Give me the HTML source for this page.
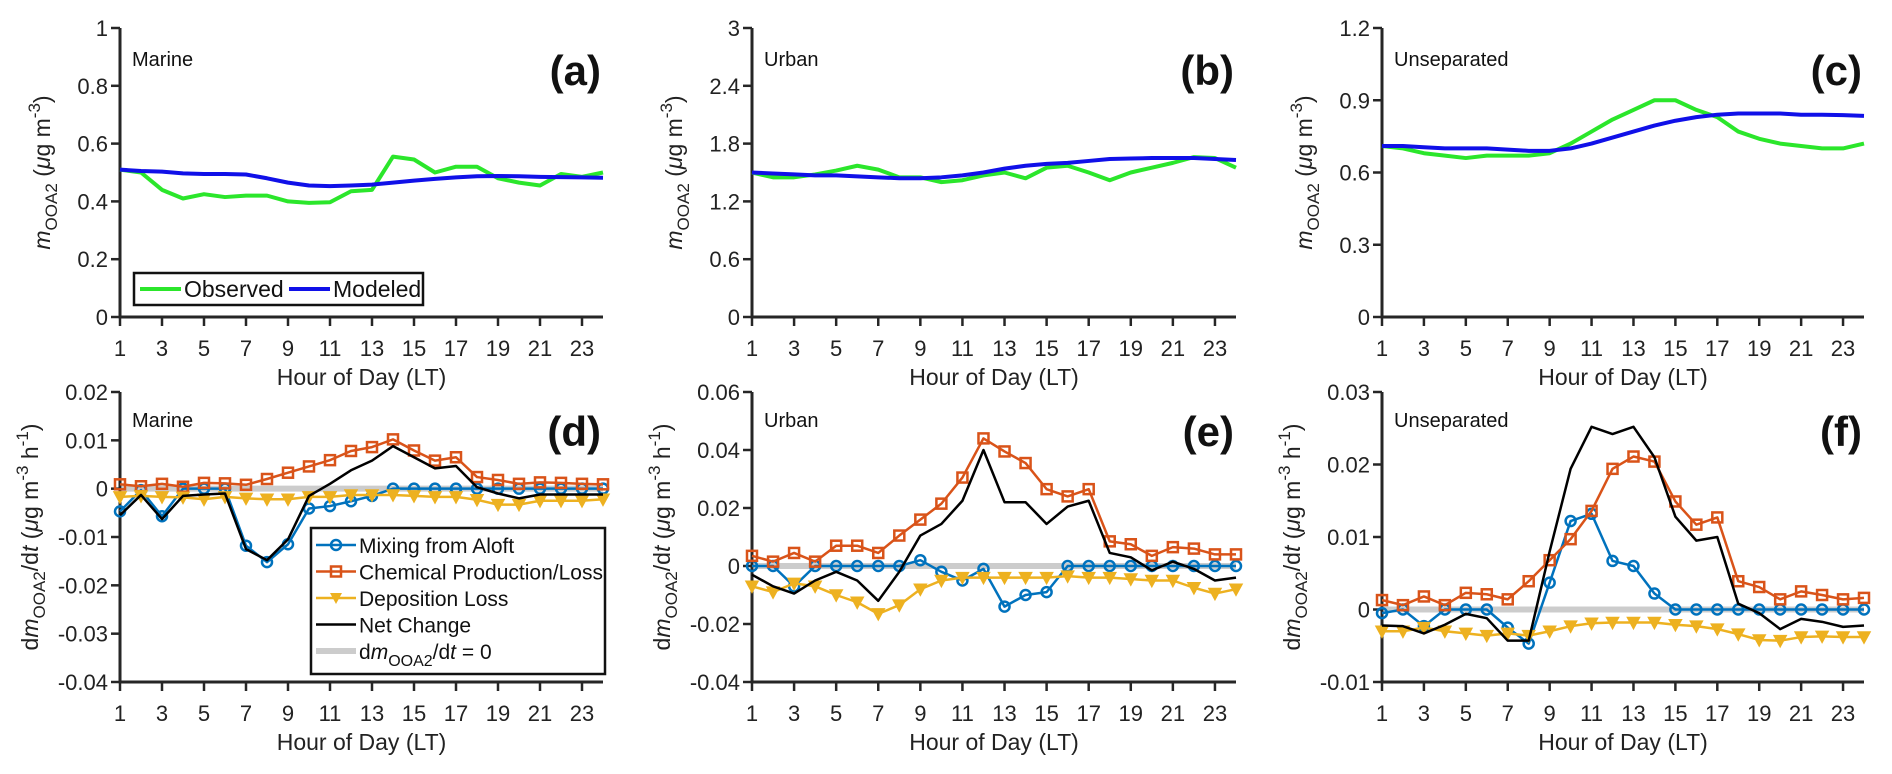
<!DOCTYPE html>
<html><head><meta charset="utf-8"><style>
html,body{margin:0;padding:0;background:#fff;}
svg{display:block;font-family:"Liberation Sans",sans-serif;}
</style></head><body>
<svg id="fig" width="1892" height="774" viewBox="0 0 1892 774" xmlns="http://www.w3.org/2000/svg"></svg>
<script>
const hours = [1,2,3,4,5,6,7,8,9,10,11,12,13,14,15,16,17,18,19,20,21,22,23,24];
const xTicks = [1,3,5,7,9,11,13,15,17,19,21,23];

const aObserved = [0.51,0.50,0.44,0.41,0.425,0.415,0.42,0.42,0.40,0.395,0.397,0.435,0.44,0.555,0.545,0.50,0.52,0.52,0.48,0.465,0.455,0.495,0.485,0.50];
const aModeled = [0.51,0.505,0.503,0.497,0.495,0.495,0.493,0.48,0.465,0.455,0.453,0.455,0.458,0.465,0.472,0.478,0.483,0.487,0.488,0.487,0.485,0.484,0.483,0.482];
const bObserved = [1.5,1.45,1.45,1.48,1.52,1.57,1.53,1.45,1.45,1.40,1.42,1.47,1.50,1.44,1.55,1.57,1.50,1.42,1.50,1.55,1.60,1.66,1.65,1.55];
const bModeled = [1.50,1.49,1.48,1.47,1.47,1.46,1.45,1.44,1.44,1.45,1.47,1.50,1.54,1.57,1.59,1.60,1.62,1.64,1.645,1.65,1.65,1.65,1.64,1.63];
const cObserved = [0.71,0.70,0.68,0.67,0.66,0.67,0.67,0.67,0.68,0.72,0.77,0.82,0.86,0.90,0.90,0.86,0.83,0.77,0.74,0.72,0.71,0.70,0.70,0.72];
const cModeled = [0.71,0.71,0.705,0.70,0.70,0.70,0.695,0.69,0.69,0.70,0.72,0.745,0.77,0.795,0.815,0.83,0.84,0.845,0.845,0.845,0.84,0.84,0.838,0.835];

const dMixing = [-0.0047,-0.0003,-0.0057,0,0,0,-0.0118,-0.0152,-0.0115,-0.0041,-0.0036,-0.0026,-0.0015,0,0,0,0,0,0,0,0,0,0,0];
const dChem = [0.0009,0.0005,0.001,0.0004,0.0012,0.0011,0.0008,0.002,0.0033,0.0046,0.0059,0.0078,0.0086,0.0102,0.0079,0.0058,0.0065,0.0024,0.0018,0.001,0.0013,0.0012,0.001,0.0009];
const dDep = [-0.0017,-0.0015,-0.0017,-0.0018,-0.0022,-0.0017,-0.002,-0.0022,-0.0022,-0.0017,-0.0017,-0.0013,-0.0013,-0.0013,-0.0015,-0.0017,-0.0017,-0.0023,-0.0033,-0.0033,-0.0025,-0.0025,-0.0025,-0.0022];
const dNet = [-0.0055,-0.0013,-0.0063,-0.0015,-0.0012,-0.001,-0.0125,-0.0148,-0.0105,-0.0015,0.001,0.0038,0.0058,0.0088,0.0065,0.0042,0.0047,0.0003,-0.001,-0.002,-0.0012,-0.0012,-0.0012,-0.0012];

const eMixing = [0,0,-0.007,0,0,0,0,0,0.002,-0.002,-0.005,-0.001,-0.014,-0.010,-0.009,0,0,0,0,0,0,0,0,0];
const eChem = [0.0035,0.0015,0.0045,0.0015,0.007,0.007,0.0045,0.0105,0.016,0.0215,0.0305,0.044,0.0395,0.0355,0.0265,0.024,0.0265,0.0085,0.0075,0.0035,0.0065,0.006,0.004,0.004];
const eDep = [-0.007,-0.009,-0.006,-0.007,-0.010,-0.0125,-0.0165,-0.0135,-0.008,-0.005,-0.004,-0.004,-0.004,-0.004,-0.004,-0.0035,-0.004,-0.004,-0.0045,-0.005,-0.005,-0.0075,-0.0095,-0.008];
const eNet = [-0.003,-0.007,-0.0095,-0.005,-0.002,-0.005,-0.012,-0.002,0.0105,0.0145,0.0225,0.040,0.022,0.022,0.0145,0.0205,0.0225,0.0045,0.003,-0.0015,0.0015,-0.001,-0.005,-0.004];

const fMixing = [-0.0005,0,-0.0023,0,0,0,-0.0025,-0.0047,0.0037,0.0122,0.0132,0.0067,0.006,0.0022,0,0,0,0,0,0,0,0,0,0];
const fChem = [0.0013,0.0006,0.0018,0.0006,0.0023,0.0021,0.0014,0.0039,0.0068,0.0097,0.0136,0.0194,0.0211,0.0204,0.0149,0.0117,0.0127,0.0039,0.0031,0.0014,0.0025,0.002,0.0014,0.0016];
const fDep = [-0.003,-0.003,-0.0025,-0.003,-0.0033,-0.0036,-0.0033,-0.0036,-0.003,-0.0023,-0.0019,-0.0018,-0.0018,-0.0018,-0.0021,-0.0023,-0.0027,-0.0034,-0.0042,-0.0043,-0.0038,-0.0037,-0.0038,-0.0038];
const fNet = [-0.0022,-0.0023,-0.0033,-0.0021,-0.0006,-0.0012,-0.0043,-0.0043,0.008,0.0194,0.0252,0.0242,0.0252,0.021,0.0128,0.0095,0.01,0.0008,-0.0005,-0.0027,-0.0013,-0.0017,-0.0024,-0.0022];

const aTicks = ["0","0.2","0.4","0.6","0.8","1"];
const bTicks = ["0","0.6","1.2","1.8","2.4","3"];
const cTicks = ["0","0.3","0.6","0.9","1.2"];
const dTicks = ["-0.04","-0.03","-0.02","-0.01","0","0.01","0.02"];
const eTicks = ["-0.04","-0.02","0","0.02","0.04","0.06"];
const fTicks = ["-0.01","0","0.01","0.02","0.03"];

const NS = "http://www.w3.org/2000/svg";
const svg = document.getElementById('fig');
function mk(tag, attrs, parent){
  const e = document.createElementNS(NS, tag);
  for (const k in attrs) e.setAttribute(k, attrs[k]);
  (parent||svg).appendChild(e);
  return e;
}
const C = {mix:"#0072BD", chem:"#D95319", dep:"#EDB120", net:"#000", obs:"#2BE62B", mod:"#1010E8"};

function panel(id, x0, x1, yTop, yBot, ticks, region, letter, kind, series){
  const g = mk('g', {});
  
  
  const vmin = parseFloat(ticks[0]), vmax = parseFloat(ticks[ticks.length-1]);
  const xs = h => x0 + (h-1)/23*(x1-x0);
  const ys = v => yBot - (v - vmin)/(vmax - vmin)*(yBot - yTop);
  const ax = mk('path', {d:`M${x0},${yTop} L${x0},${yBot} L${x1},${yBot}`, fill:'none', stroke:'#262626', 'stroke-width':3}, g);
  
  
  xTicks.forEach(t => {
    const x = xs(t);
    mk('line', {x1:x, y1:yBot, x2:x, y2:yBot+9, stroke:'#262626', 'stroke-width':2.5}, g);
    const tl = mk('text', {x:x, y:yBot+39, 'text-anchor':'middle', 'font-size':22, fill:'#222'}, g);
    tl.textContent = t;
    
    
  });
  ticks.forEach(t => {
    const y = ys(parseFloat(t));
    mk('line', {x1:x0-9, y1:y, x2:x0, y2:y, stroke:'#262626', 'stroke-width':2.5}, g);
    const tl = mk('text', {x:x0-12, y:y+8, 'text-anchor':'end', 'font-size':22, fill:'#222'}, g);
    tl.textContent = t;
    
    
  });
  const xt = mk('text', {x:(x0+x1)/2, y:yBot+68, 'text-anchor':'middle', 'font-size':23, fill:'#222'}, g);
  xt.textContent = 'Hour of Day (LT)';
  
  
  const yc = (yTop+yBot)/2, yx = (kind==='conc') ? x0-70 : x0-82;
  const yt = mk('text', {transform:`translate(${yx},${yc}) rotate(-90)`, 'text-anchor':'middle', 'font-size':23, fill:'#222'}, g);
  
  
  if (kind==='conc'){
    yt.innerHTML = '<tspan font-style="italic">m</tspan><tspan font-size="17" dy="7">OOA2</tspan><tspan dy="-7"> (</tspan><tspan font-style="italic">μ</tspan><tspan>g m</tspan><tspan font-size="17" dy="-10">-3</tspan><tspan dy="10">)</tspan>';
  } else {
    yt.innerHTML = '<tspan>d</tspan><tspan font-style="italic">m</tspan><tspan font-size="17" dy="7">OOA2</tspan><tspan dy="-7">/d</tspan><tspan font-style="italic">t</tspan><tspan> (</tspan><tspan font-style="italic">μ</tspan><tspan>g m</tspan><tspan font-size="17" dy="-10">-3</tspan><tspan dy="10"> h</tspan><tspan font-size="17" dy="-10">-1</tspan><tspan dy="10">)</tspan>';
  }
  const rl = mk('text', {x:x0+12, y:yTop+(kind==='conc'?38:35), 'font-size':20, fill:'#111'}, g);
  rl.textContent = region;
  
  
  const pl = mk('text', {x:x1-2, y:yTop+(kind==='conc'?57:54), 'text-anchor':'end', 'font-size':42, 'font-weight':'bold', fill:'#111'}, g);
  pl.textContent = letter;
  
  

  const line = (vals, color, w, name) => {
    const p = mk('polyline', {points: vals.map((v,i)=>xs(hours[i])+','+ys(v)).join(' '), fill:'none', stroke:color, 'stroke-width':w, 'stroke-linejoin':'round'}, g);
    
    
  };
  if (kind==='conc'){
    line(series.obs, C.obs, 4, 'observed-line');
    line(series.mod, C.mod, 4, 'modeled-line');
  } else {
    const z = mk('line', {x1:x0+2, y1:ys(0), x2:x1, y2:ys(0), stroke:'#cccccc', 'stroke-width':6}, g);
    
    
    line(series.mix, C.mix, 2.5, 'mixing-line');
    series.mix.forEach((v,i)=>{
      const m = mk('circle', {cx:xs(hours[i]), cy:ys(v), r:5, fill:'none', stroke:C.mix, 'stroke-width':2.5}, g);
      
      
    });
    line(series.chem, C.chem, 2.5, 'chemical-line');
    series.chem.forEach((v,i)=>{
      const m = mk('rect', {x:xs(hours[i])-5, y:ys(v)-5, width:10, height:10, fill:'none', stroke:C.chem, 'stroke-width':2.5}, g);
      
      
    });
    line(series.dep, C.dep, 2.5, 'deposition-line');
    series.dep.forEach((v,i)=>{
      const x = xs(hours[i]), y = ys(v);
      const m = mk('polygon', {points:`${x-6},${y-5} ${x+6},${y-5} ${x},${y+6}`, fill:C.dep, stroke:C.dep, 'stroke-width':1.5}, g);
      
      
    });
    line(series.net, C.net, 2.5, 'net-change-line');
  }
  return g;
}

const TX = [[120,603],[752,1236],[1382,1864]];
panel('a', TX[0][0], TX[0][1], 28, 317, aTicks, 'Marine', '(a)', 'conc', {obs:aObserved, mod:aModeled});
panel('b', TX[1][0], TX[1][1], 28, 317, bTicks, 'Urban', '(b)', 'conc', {obs:bObserved, mod:bModeled});
panel('c', TX[2][0], TX[2][1], 28, 317, cTicks, 'Unseparated', '(c)', 'conc', {obs:cObserved, mod:cModeled});
panel('d', TX[0][0], TX[0][1], 392, 682, dTicks, 'Marine', '(d)', 'rate', {mix:dMixing, chem:dChem, dep:dDep, net:dNet});
panel('e', TX[1][0], TX[1][1], 392, 682, eTicks, 'Urban', '(e)', 'rate', {mix:eMixing, chem:eChem, dep:eDep, net:eNet});
panel('f', TX[2][0], TX[2][1], 392, 682, fTicks, 'Unseparated', '(f)', 'rate', {mix:fMixing, chem:fChem, dep:fDep, net:fNet});

const la = mk('g', {});


mk('rect', {x:134, y:273, width:289, height:32, fill:'#fff', stroke:'#111', 'stroke-width':2.5}, la);
mk('line', {x1:140, y1:289, x2:181, y2:289, stroke:C.obs, 'stroke-width':4}, la);
let t = mk('text', {x:184, y:297, 'font-size':23, fill:'#111'}, la); t.textContent = 'Observed';


mk('line', {x1:289, y1:289, x2:330, y2:289, stroke:C.mod, 'stroke-width':4}, la);
t = mk('text', {x:333, y:297, 'font-size':23, fill:'#111'}, la); t.textContent = 'Modeled';



const ld = mk('g', {});


mk('rect', {x:311, y:528, width:294, height:146, fill:'#fff', stroke:'#111', 'stroke-width':2.5}, ld);
const rows = [['Mixing from Aloft', C.mix, 'circle'], ['Chemical Production/Loss', C.chem, 'square'], ['Deposition Loss', C.dep, 'tri'], ['Net Change', '#000', 'none'], ['zero', '#cccccc', 'zero']];
rows.forEach((r,i)=>{
  const y = 545 + i*26.5;
  mk('line', {x1:316, y1:y, x2:356, y2:y, stroke:r[1], 'stroke-width': r[2]==='zero'?6:2.5}, ld);
  if (r[2]==='circle') mk('circle', {cx:336, cy:y, r:5, fill:'none', stroke:r[1], 'stroke-width':2.5}, ld);
  if (r[2]==='square') mk('rect', {x:331, y:y-5, width:10, height:10, fill:'none', stroke:r[1], 'stroke-width':2.5}, ld);
  if (r[2]==='tri') mk('polygon', {points:`${330},${y-5} ${342},${y-5} ${336},${y+6}`, fill:r[1]}, ld);
  const tx = mk('text', {x:359, y:y+8, 'font-size':21, fill:'#111'}, ld);
  
  
  if (r[2]==='zero') tx.innerHTML = 'd<tspan font-style="italic">m</tspan><tspan font-size="16" dy="7">OOA2</tspan><tspan dy="-7">/d</tspan><tspan font-style="italic">t</tspan> = 0';
  else tx.textContent = r[0];
});
</script>
</body></html>
